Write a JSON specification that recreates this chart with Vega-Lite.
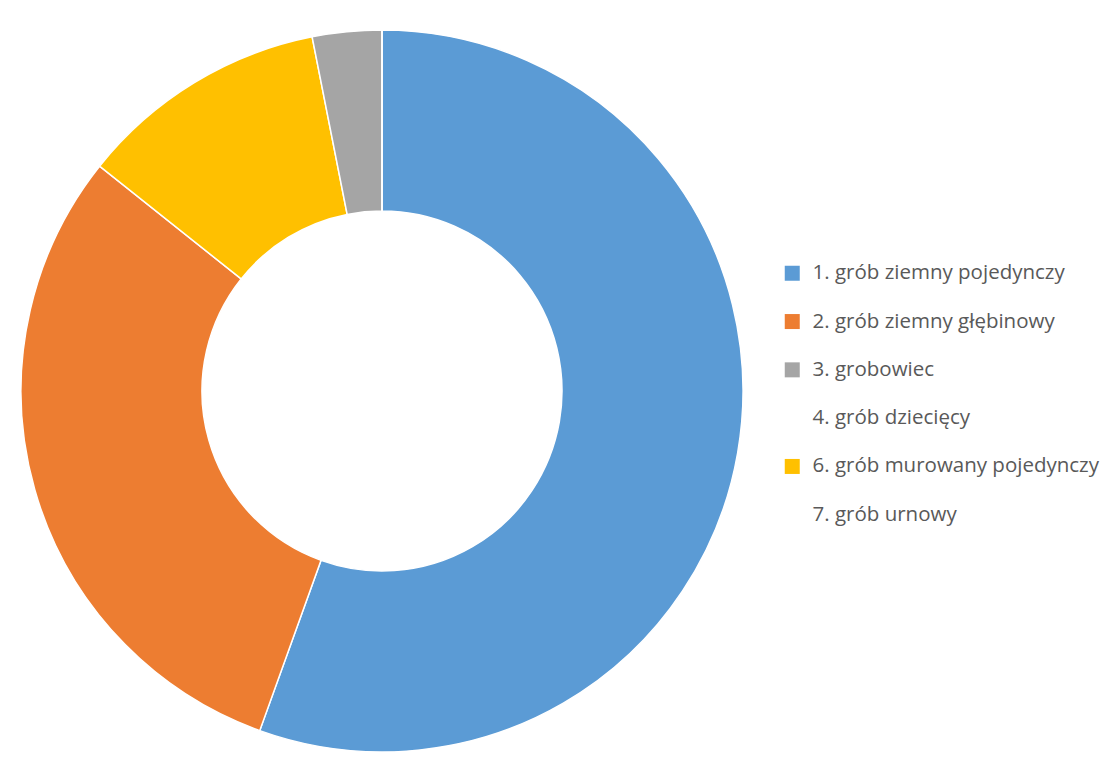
{
  "$schema": "https://vega.github.io/schema/vega-lite/v6.json",
  "autosize": {"type": "none"},
  "width": 748,
  "height": 734,
  "padding": {"left": 8, "top": 24, "right": 364, "bottom": 9},
  "background": "#ffffff",
  "config": {"view": {"stroke": null}},
  "data": {
    "values": [
      {"kategoria": "1. grób ziemny  pojedynczy", "wartosc": 55.5, "kolejnosc": 1},
      {"kategoria": "2. grób ziemny głębinowy", "wartosc": 30.2, "kolejnosc": 2},
      {"kategoria": "6. grób murowany pojedynczy", "wartosc": 11.2, "kolejnosc": 3},
      {"kategoria": "3. grobowiec", "wartosc": 3.1, "kolejnosc": 4},
      {"kategoria": "4. grób dziecięcy", "wartosc": 0, "kolejnosc": 5},
      {"kategoria": "7. grób urnowy", "wartosc": 0, "kolejnosc": 6}
    ]
  },
  "mark": {"type": "arc", "outerRadius": 361, "innerRadius": 180, "stroke": "#ffffff", "strokeWidth": 1.5},
  "encoding": {
    "theta": {"field": "wartosc", "type": "quantitative", "stack": true},
    "order": {"field": "kolejnosc", "type": "quantitative"},
    "color": {
      "field": "kategoria",
      "type": "nominal",
      "scale": {
        "domain": ["1. grób ziemny  pojedynczy", "2. grób ziemny głębinowy", "3. grobowiec", "4. grób dziecięcy", "6. grób murowany pojedynczy", "7. grób urnowy"],
        "range": ["#5B9BD5", "#ED7D31", "#A5A5A5", "#ffffff", "#FFC000", "#ffffff"]
      },
      "legend": {
        "title": null,
        "orient": "none",
        "legendX": 774,
        "legendY": 239,
        "padding": 0,
        "symbolType": "square",
        "symbolSize": 225,
        "symbolStrokeWidth": 0,
        "labelFont": "Open Sans",
        "labelFontSize": 20.5,
        "labelColor": "#595959",
        "labelOffset": 10,
        "rowPadding": 27.3,
        "labelLimit": 400
      }
    }
  }
}
